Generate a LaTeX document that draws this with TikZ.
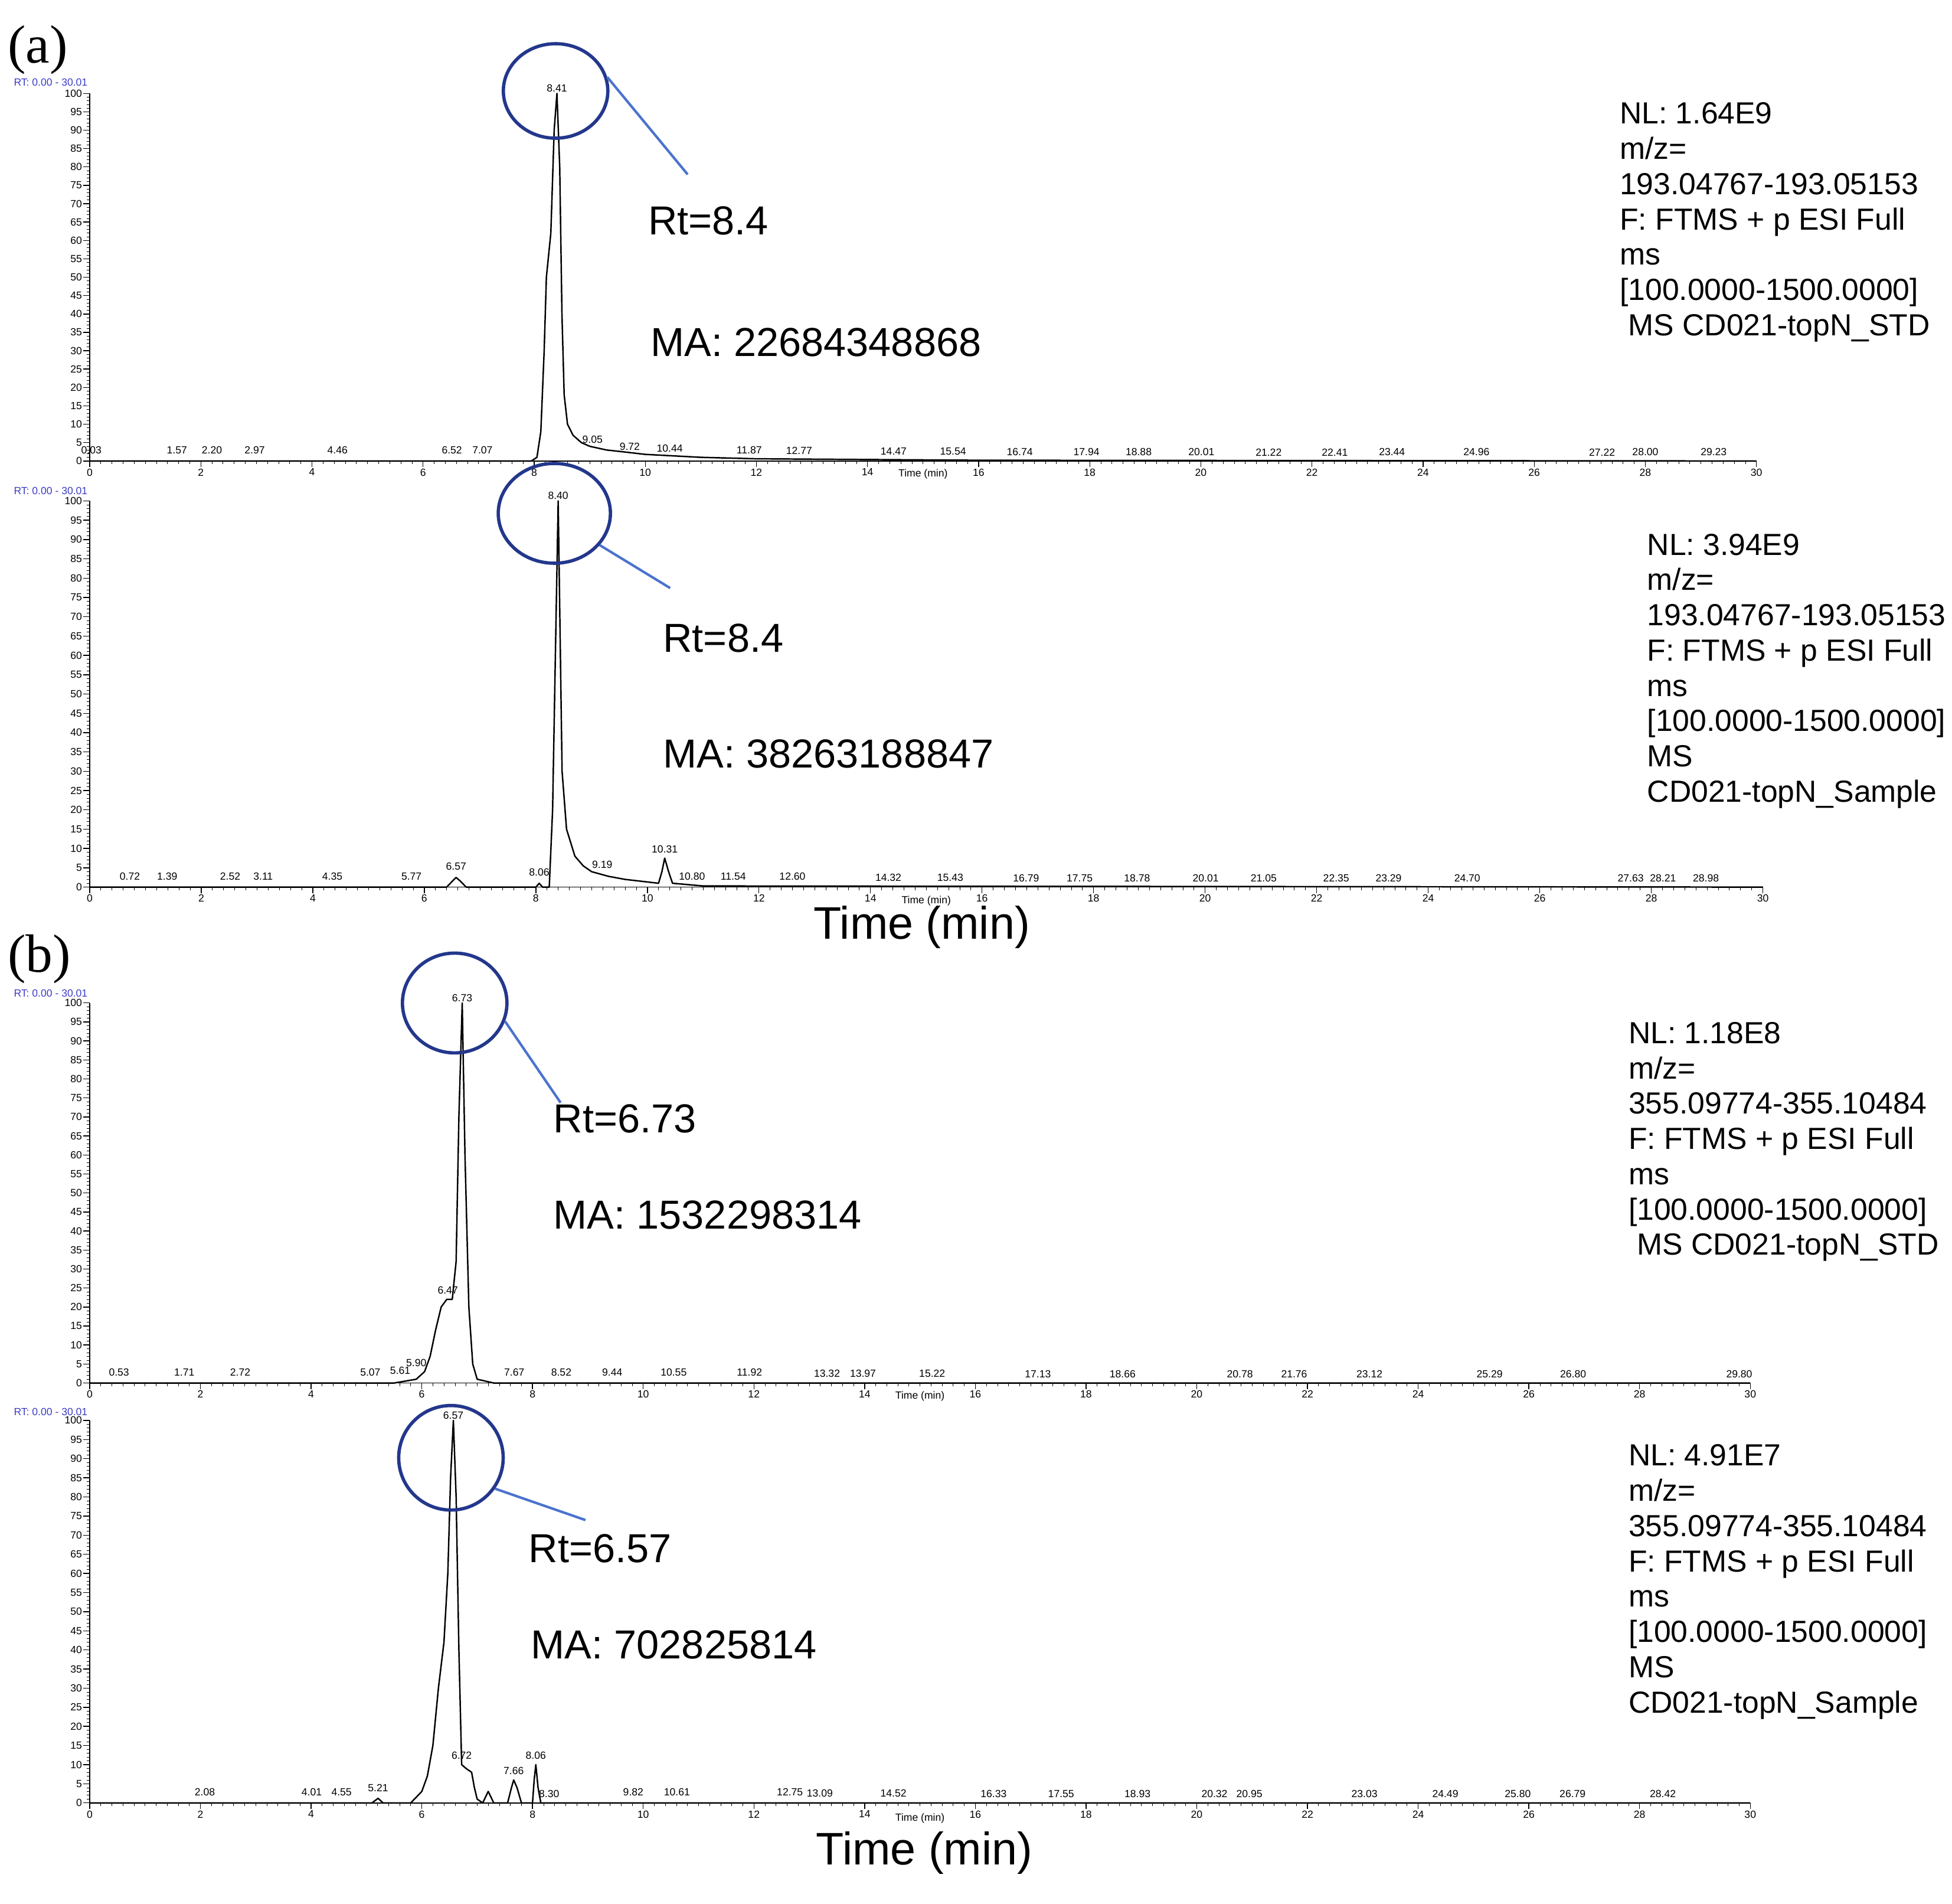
\documentclass[tikz,border=0pt]{standalone}
\usepackage{fontspec}
\setmainfont{Liberation Sans}
\newfontfamily\serifp{Liberation Serif}
\usetikzlibrary{shapes.geometric}
\definecolor{cblue}{RGB}{35,55,140}
\definecolor{lblue}{RGB}{75,115,205}
\definecolor{rtblue}{RGB}{60,60,200}
\tikzset{
 tl/.style={font=\fontsize{5}{6}\selectfont, inner sep=0.5pt},
 big/.style={font=\fontsize{19.5}{24}\selectfont, anchor=west, inner sep=0},
 bigt/.style={font=\fontsize{22}{26}\selectfont, anchor=center, inner sep=0},
 info/.style={font=\fontsize{14.7}{17}\selectfont, anchor=north west, inner sep=0, align=left},
 ring/.style={ellipse, draw=cblue, line width=1.6pt},
 lead/.style={draw=lblue, line width=1.2pt},
 trace/.style={line width=0.7pt, line join=round},
}
\newcommand{\chromaxes}{%
  \draw[line width=0.5pt] (0,100) -- (0,0) -- (30,0);
  \foreach \v in {0,5,...,100} {\draw (0,\v) -- ++(-3pt,0); \node[tl,anchor=east] at ([xshift=-3pt]0,\v) {\v};}
  \foreach \v in {0,1,...,100} {\draw[line width=0.2pt] (0,\v) -- ++(-1.5pt,0);}
  \foreach \v in {0,2,...,30} {\draw (\v,0) -- ++(0,-3pt); \node[tl,anchor=north] at ([yshift=-3pt]\v,0) {\v};}
  \foreach \v in {0,0.2,...,30} {\draw[line width=0.2pt] (\v,0) -- ++(0,-1.5pt);}
}
\begin{document}
\begin{tikzpicture}[x=0.021104cm,y=-0.021104cm]
\useasboundingbox (0,0) rectangle (1567,1528);
\node[font=\serifp\fontsize{26}{30}\selectfont, anchor=west, inner sep=0] (la) at (6,40) {(a)};
\node[font=\serifp\fontsize{26}{30}\selectfont, anchor=west, inner sep=0] (lb) at (6,770) {(b)};

% ---------- a1
\node[tl,text=rtblue,anchor=west] (rta1) at (10,66) {RT: 0.00 - 30.01};
\begin{scope}[shift={(72,370)},x=0.9412cm,y=0.06226cm]
 \chromaxes
 \draw[trace] plot coordinates {(0,0) (7.95,0) (8.05,1) (8.12,8) (8.18,30) (8.22,50) (8.3,62) (8.36,90) (8.41,100) (8.46,80) (8.5,40) (8.54,18) (8.6,10) (8.7,7) (8.85,5) (9.0,4) (9.3,3) (9.6,2.5) (10,1.8) (11,1) (12,0.6) (16,0.2) (30,0)};
 \foreach \t/\h in {0.03/1.5,1.57/1.5,2.20/1.5,2.97/1.5,4.46/1.5,6.52/1.5,7.07/1.5,9.05/4.5,9.72/2.5,10.44/2,11.87/1.5,12.77/1.5,14.47/1.2,15.54/1.2,16.74/1,17.94/1,18.88/1,20.01/1,21.22/1,22.41/1,23.44/1,24.96/1,27.22/1,28.00/1,29.23/1}
   \node[tl,anchor=south] at (\t,\h) {\t};
 \node[tl,anchor=south] at (8.41,100) {8.41};
 \node[tl] at (15,-3.5) {Time (min)};
\end{scope}
\node[ring, minimum width=1.77cm, minimum height=1.60cm] (c1) at (446,73) {};
\coordinate (e1) at (552,140);
\draw[lead] (c1.15) -- (e1);
\node[big] (rt1) at (520,177) {Rt=8.4};
\node[big] (ma1) at (522,275) {MA: 22684348868};
\node[info] (i1) at (1300,82) {NL: 1.64E9\\m/z=\\193.04767-193.05153\\F: FTMS + p ESI Full\\ms\\{[100.0000-1500.0000]}\\\ MS CD021-topN\_STD};

% ---------- a2
\node[tl,text=rtblue,anchor=west] (rta2) at (10,394) {RT: 0.00 - 30.01};
\begin{scope}[shift={(72,712)},x=0.9448cm,y=0.06542cm]
 \chromaxes
 \draw[trace] plot coordinates {(0,0) (6.4,0) (6.5,1.5) (6.57,2.5) (6.65,1.5) (6.75,0) (8.0,0) (8.06,1) (8.12,0) (8.24,0) (8.3,20) (8.35,60) (8.40,100) (8.44,60) (8.47,30) (8.55,15) (8.7,8) (8.85,5.5) (9,4) (9.3,2.8) (9.6,2) (10.2,1) (10.26,4) (10.31,7.5) (10.38,4) (10.45,1) (11,0.3) (30,0)};
 \foreach \t/\h in {0.72/1.5,1.39/1.5,2.52/1.5,3.11/1.5,4.35/1.5,5.77/1.5,6.57/4,8.06/2.5,9.19/4.5,10.31/8.5,10.80/1.5,11.54/1.5,12.60/1.5,14.32/1.2,15.43/1.2,16.79/1,17.75/1,18.78/1,20.01/1,21.05/1,22.35/1,23.29/1,24.70/1,27.63/1,28.21/1,28.98/1}
   \node[tl,anchor=south] at (\t,\h) {\t};
 \node[tl,anchor=south] at (8.40,100) {8.40};
 \node[tl] at (15,-3.5) {Time (min)};
\end{scope}
\node[ring, minimum width=1.90cm, minimum height=1.69cm] (c2) at (445,412) {};
\coordinate (e2) at (538,472);
\draw[lead] (c2.-35) -- (e2);
\node[big] (rt2) at (532,512) {Rt=8.4};
\node[big] (ma2) at (532,605) {MA: 38263188847};
\node[info] (i2) at (1322,428) {NL: 3.94E9\\m/z=\\193.04767-193.05153\\F: FTMS + p ESI Full\\ms\\{[100.0000-1500.0000]}\\MS\\CD021-topN\_Sample};
\node[bigt] (t1) at (740,744) {Time (min)};

% ---------- b1
\node[tl,text=rtblue,anchor=west] (rtb1) at (10,797) {RT: 0.00 - 30.01};
\begin{scope}[shift={(72,1110)},x=0.9377cm,y=0.06437cm]
 \chromaxes
 \draw[trace] plot coordinates {(0,0) (5.5,0) (5.9,1) (6.05,3) (6.15,7) (6.25,14) (6.35,20) (6.45,22) (6.55,22) (6.62,32) (6.67,70) (6.73,100) (6.78,60) (6.85,20) (6.92,5) (7.0,1) (7.3,0) (30,0)};
 \foreach \t/\h in {0.53/1.5,1.71/1.5,2.72/1.5,5.07/1.5,5.61/2,5.90/4,6.47/23,7.67/1.5,8.52/1.5,9.44/1.5,10.55/1.5,11.92/1.5,13.32/1.2,13.97/1.2,15.22/1.2,17.13/1,18.66/1,20.78/1,21.76/1,23.12/1,25.29/1,26.80/1,29.80/1}
   \node[tl,anchor=south] at (\t,\h) {\t};
 \node[tl,anchor=south] at (6.73,100) {6.73};
 \node[tl] at (15,-3.5) {Time (min)};
\end{scope}
\node[ring, minimum width=1.77cm, minimum height=1.69cm] (c3) at (365,805) {};
\coordinate (e3) at (450,885);
\draw[lead] (c3.-20) -- (e3);
\node[big] (rt3) at (444,898) {Rt=6.73};
\node[big] (ma3) at (444,975) {MA: 1532298314};
\node[info] (i3) at (1307,820) {NL: 1.18E8\\m/z=\\355.09774-355.10484\\F: FTMS + p ESI Full\\ms\\{[100.0000-1500.0000]}\\\ MS CD021-topN\_STD};

% ---------- b2
\node[tl,text=rtblue,anchor=west] (rtb2) at (10,1133) {RT: 0.00 - 30.01};
\begin{scope}[shift={(72,1447)},x=0.9377cm,y=0.06479cm]
 \chromaxes
 \draw[trace] plot coordinates {(0,0) (5.1,0) (5.21,1.2) (5.3,0) (5.8,0) (6.0,3) (6.1,7) (6.2,15) (6.3,30) (6.4,42) (6.47,60) (6.52,85) (6.57,100) (6.62,80) (6.67,40) (6.72,10) (6.8,9) (6.9,8) (6.95,4) (7.0,1) (7.1,0) (7.2,3) (7.3,0) (7.55,0) (7.62,4) (7.66,6) (7.72,4) (7.8,0) (8.0,0) (8.03,6) (8.06,10) (8.1,4) (8.15,0) (30,0)};
 \foreach \p/\h/\t in {2.08/1.5/2.08,4.01/1.5/4.01,4.55/1.5/4.55,5.21/2.5/5.21,6.72/11/6.72,7.66/7/7.66,8.06/11/8.06,8.30/1/8.30,9.82/1.5/9.82,10.61/1.5/10.61,12.65/1.5/12.75,13.19/1.2/13.09,14.52/1.2/14.52,16.33/1/16.33,17.55/1/17.55,18.93/1/18.93,20.32/1/20.32,20.95/1/20.95,23.03/1/23.03,24.49/1/24.49,25.80/1/25.80,26.79/1/26.79,28.42/1/28.42}
   \node[tl,anchor=south] at (\p,\h) {\t};
 \node[tl,anchor=south] at (6.57,100) {6.57};
 \node[tl] at (15,-4) {Time (min)};
\end{scope}
\node[ring, minimum width=1.77cm, minimum height=1.77cm] (c4) at (362,1170) {};
\coordinate (e4) at (470,1220);
\draw[lead] (c4.-35) -- (e4);
\node[big] (rt4) at (424,1243) {Rt=6.57};
\node[big] (ma4) at (426,1320) {MA: 702825814};
\node[info] (i4) at (1307,1159) {NL: 4.91E7\\m/z=\\355.09774-355.10484\\F: FTMS + p ESI Full\\ms\\{[100.0000-1500.0000]}\\MS\\CD021-topN\_Sample};
\node[bigt] (t2) at (742,1487) {Time (min)};
\end{tikzpicture}
\end{document}
